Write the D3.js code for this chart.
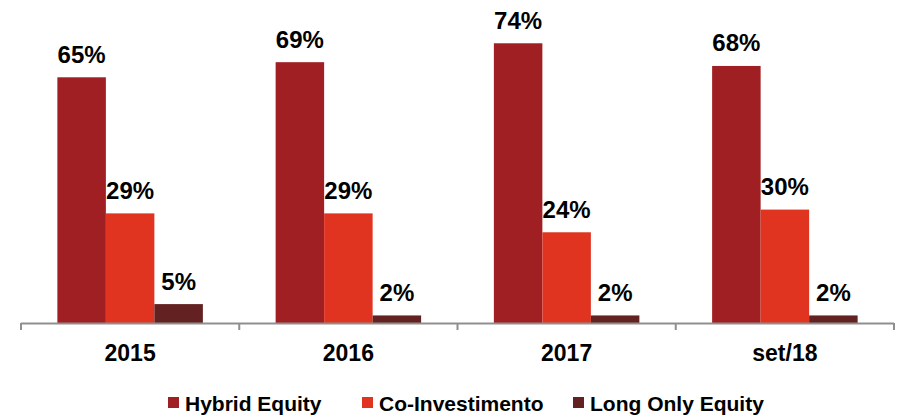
<!DOCTYPE html>
<html><head><meta charset="utf-8">
<script src="https://cdn.jsdelivr.net/npm/d3@7"></script>
<style>body{margin:0;background:#fff}svg{display:block}text{font-family:"Liberation Sans",Arial,sans-serif;font-weight:bold;fill:#000}</style>
</head><body>
<svg id="c" width="897" height="416"></svg>
<script>
const categories = ["2015","2016","2017","set/18"];
const seriesNames = ["Hybrid Equity","Co-Investimento","Long Only Equity"];
const hybrid = [65,69,74,68];
const coInv = [29,29,24,30];
const longOnly = [5,2,2,2];
const colors = ["#A01F22","#E03421","#632121"];
const values = [hybrid, coInv, longOnly];

const svg = d3.select("#c");
const x0 = d3.scaleBand().domain(categories).range([21, 894]).padding(0);
const x1 = d3.scaleBand().domain(seriesNames).range([0, x0.bandwidth()]).paddingInner(0).paddingOuter(0.75);
const y = d3.scaleLinear().domain([0, 80]).range([323, 323 - 80*3.78]);

const rows = [];
seriesNames.forEach((s, si) => categories.forEach((c, ci) => rows.push({s, si, c, v: values[si][ci]})));

svg.append("g").selectAll("rect").data(rows).join("rect")
  .attr("x", d => x0(d.c) + x1(d.s))
  .attr("y", d => y(d.v))
  .attr("width", x1.bandwidth())
  .attr("height", d => y(0) - y(d.v))
  .attr("fill", d => colors[d.si]);

svg.append("g").selectAll("text").data(rows).join("text")
  .attr("x", d => x0(d.c) + x1(d.s) + x1.bandwidth()/2)
  .attr("y", d => y(d.v) - 14.5)
  .attr("text-anchor", "middle")
  .style("font-size", "24px")
  .text(d => d.v + "%");

// axis
const ax = svg.append("g");
ax.append("line").attr("x1", 21).attr("x2", 894).attr("y1", 323.5).attr("y2", 323.5).attr("stroke", "#8f8f8f").attr("stroke-width", 2);
const bounds = categories.map(c => x0(c)).concat([x0.range()[1]]);
ax.selectAll(".tk").data(bounds).join("line").attr("class","tk")
  .attr("x1", d => d).attr("x2", d => d).attr("y1", 323).attr("y2", 330)
  .attr("stroke", "#8f8f8f").attr("stroke-width", 2);
ax.selectAll(".cl").data(categories).join("text").attr("class","cl")
  .attr("x", d => x0(d) + x0.bandwidth()/2).attr("y", 361)
  .attr("text-anchor","middle").style("font-size","23px").text(d => d);

// legend
const legX = [168, 362, 573];
const lg = svg.append("g").selectAll("g").data(seriesNames).join("g")
  .attr("transform", (d,i) => `translate(${legX[i]},0)`);
lg.append("rect").attr("x",0).attr("y",397).attr("width",11).attr("height",11).attr("fill",(d,i)=>colors[i]);
lg.append("text").attr("x",17).attr("y",411).style("font-size","21px").text(d => d);
</script>
</body></html>
